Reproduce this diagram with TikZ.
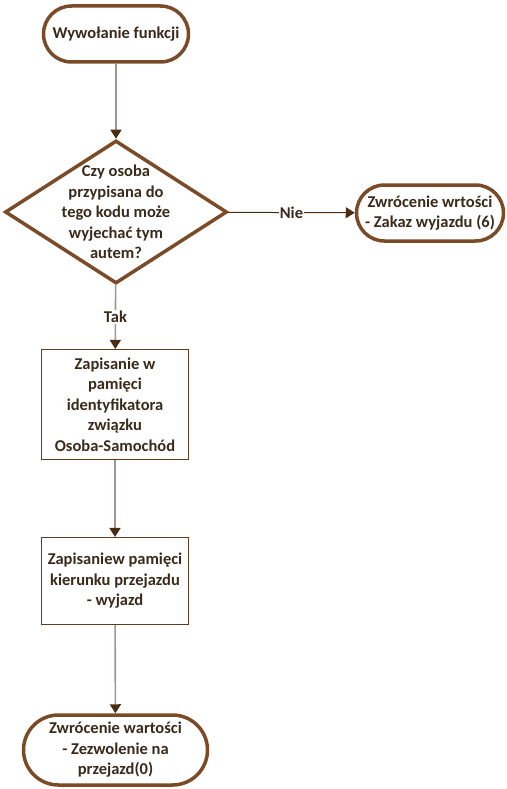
\documentclass[tikz,border=0pt]{standalone}
\usepackage{fontspec}
\setmainfont{Carlito}
\usetikzlibrary{arrows.meta,positioning,shapes.geometric}
\definecolor{brd}{HTML}{7B4B28}
\definecolor{thin}{HTML}{5C3D22}
\definecolor{cn}{HTML}{A5958C}
\definecolor{tip}{HTML}{4A2C14}
\definecolor{txt}{HTML}{3A2A1A}
\tikzset{
  base/.style={align=center,text=txt,font=\fontsize{16.5}{20.5}\selectfont\bfseries},
  term/.style={base,draw=brd,line width=3.5pt,rounded corners=28pt,fill=white,minimum width=145pt,minimum height=56pt},
  dec/.style={base,diamond,draw=brd,line width=3.5pt,aspect=1.54,inner sep=-13pt,minimum width=222pt,minimum height=143pt},
  proc/.style={base,draw=thin,line width=1.1pt,minimum width=147pt},
  ar/.style={-{Triangle[length=9pt,width=11pt,color=tip]},line width=1.6pt,draw=cn},
  lbl/.style={base,fill=white,inner sep=1pt},
}
\begin{document}
\begin{tikzpicture}
\useasboundingbox (0,0) rectangle (506pt,-789pt);
\node[term] (start) at (116pt,-34pt) {Wywołanie funkcji};
\node[dec] (q) at (116pt,-212pt) {Czy osoba\\przypisana do\\tego kodu może\\wyjechać tym\\autem?};
\node[term,minimum width=147pt] (no) at (430pt,-213pt) {Zwrócenie wrtości\\- Zakaz wyjazdu (6)};
\node[proc,minimum height=110pt] (mem) at (115pt,-404.5pt) {Zapisanie w\\pamięci\\identyfikatora\\związku\\Osoba-Samochód};
\node[proc,minimum height=87pt] (dir) at (115pt,-581pt) {Zapisaniew pamięci\\kierunku przejazdu\\- wyjazd};
\node[term,minimum width=184pt,minimum height=70pt,rounded corners=35pt] (ok) at (115.5pt,-750pt) {Zwrócenie wartości\\- Zezwolenie na\\przejazd(0)};
\draw[ar] (start)--(q);
\draw[ar,draw=tip,line width=1pt] (q)--node[lbl]{Nie}(no);
\draw[ar] (q)--node[lbl]{Tak}(mem);
\draw[ar] (mem)--(dir);
\draw[ar] (dir)--(ok);
\end{tikzpicture}
\end{document}
